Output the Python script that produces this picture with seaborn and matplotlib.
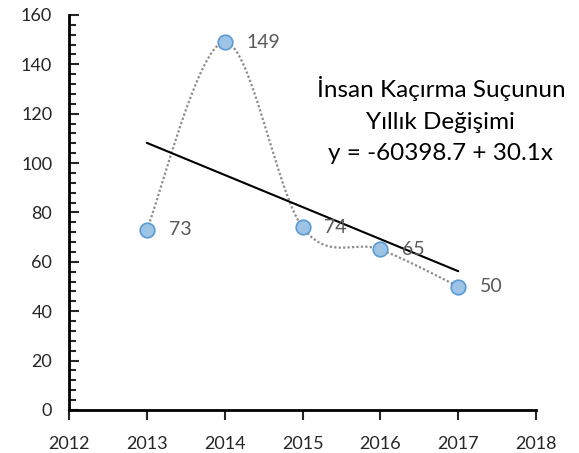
import numpy as np
import pandas as pd
import matplotlib
matplotlib.use('Agg')
import matplotlib.pyplot as plt
from matplotlib.ticker import MultipleLocator
import seaborn as sns

# veriler
years = [2013, 2014, 2015, 2016, 2017]
cases = [73, 149, 74, 65, 50]
title_lines = ['İnsan Kaçırma Suçunun', 'Yıllık Değişimi', 'y = -60398.7 + 30.1x']

df = pd.DataFrame({'yil': years, 'sayi': cases})

sns.set_style('white')
plt.rcParams['font.family'] = ['Lato', 'DejaVu Sans']


# Excel tarzi yumusak cizgi (Catmull-Rom / Bezier)
def smooth_curve(xs, ys, n=60):
    p = np.column_stack([xs, ys]).astype(float)
    p = np.vstack([p[0], p, p[-1]])
    out = []
    for i in range(1, len(p) - 2):
        p0, p1, p2, p3 = p[i - 1], p[i], p[i + 1], p[i + 2]
        c1 = p1 + (p2 - p0) / 6.0
        c2 = p2 - (p3 - p1) / 6.0
        t = np.linspace(0, 1, n)[:, None]
        seg = ((1 - t) ** 3) * p1 + 3 * ((1 - t) ** 2) * t * c1 + 3 * (1 - t) * t ** 2 * c2 + t ** 3 * p2
        out.append(seg if i == 1 else seg[1:])
    return np.vstack(out)


curve = smooth_curve(df['yil'], df['sayi'])
df_curve = pd.DataFrame({'x': curve[:, 0], 'y': curve[:, 1]})

fig = plt.figure(figsize=(5.79, 4.53), dpi=100)
ax = fig.add_axes([0.119, 0.095, 0.807, 0.872])

sns.lineplot(data=df_curve, x='x', y='y', sort=False, ax=ax, color='#8c8c8c',
             linestyle=(0, (1, 1)), linewidth=1.6, zorder=2)
sns.regplot(data=df, x='yil', y='sayi', ci=None, scatter=False, ax=ax,
            line_kws={'color': 'black', 'linewidth': 1.5, 'zorder': 3})
sns.scatterplot(data=df, x='yil', y='sayi', ax=ax, s=110, color='#9dc3e6',
                edgecolor='#5b9bd5', linewidth=1.2, zorder=4)

for x, y in zip(years, cases):
    ax.text(x + 0.28, y, str(y), fontsize=14, color='#595959', va='center', ha='left')

ax.text(0.796, 0.734, '\n'.join(title_lines), transform=ax.transAxes, ha='center', va='center',
        fontsize=17.5, color='black', linespacing=1.62)

ax.set_xlim(2012, 2018)
ax.set_ylim(0, 160)
ax.xaxis.set_major_locator(MultipleLocator(1))
ax.yaxis.set_major_locator(MultipleLocator(20))
ax.yaxis.set_minor_locator(MultipleLocator(4))
ax.set_xlabel('')
ax.set_ylabel('')

for side in ['top', 'right']:
    ax.spines[side].set_visible(False)
for side in ['left', 'bottom']:
    ax.spines[side].set_linewidth(2)
    ax.spines[side].set_color('black')

ax.tick_params(axis='y', which='major', direction='in', length=7, width=1.5, labelsize=13, pad=12, left=True)
ax.tick_params(axis='y', which='minor', direction='in', length=5, width=1.5, left=True)
ax.tick_params(axis='x', which='major', direction='out', length=7, width=1.5, labelsize=13, pad=12, bottom=True)

fig.savefig('out.png', dpi=100)
